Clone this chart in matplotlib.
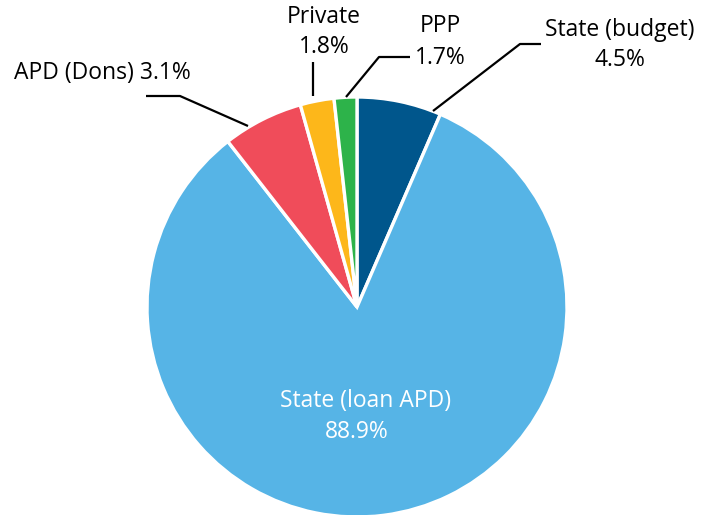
import matplotlib.pyplot as plt

# text shares printed on the chart
names = ['State (budget)', 'State (loan APD)', 'APD (Dons)', 'Private', 'PPP']
label_pct = [4.5, 88.9, 3.1, 1.8, 1.7]
slice_pct = [6.5, 83.0, 6.2, 2.6, 1.75]
colors = ['#00568C', '#56B4E6', '#F04C5A', '#FDB71A', '#2DB34A']

W, H = 703, 515
plt.rcParams['font.family'] = ['Open Sans', 'DejaVu Sans']

fig = plt.figure(figsize=(W / 100, H / 100), dpi=100)
ax = fig.add_axes([0, 0, 1, 1])
ax.set_xlim(0, W)
ax.set_ylim(0, H)
ax.set_aspect('equal')
ax.axis('off')

ax.pie(slice_pct, colors=colors, startangle=90, counterclock=False,
       center=(357, H - 307), radius=210,
       wedgeprops=dict(edgecolor='white', linewidth=2.4))
ax.set_xlim(0, W)
ax.set_ylim(0, H)

fs = 16.5
def y(p):
    return H - p

# leader lines (pixel positions)
leaders = [
    [(146, 96), (180, 96), (248, 126)],
    [(313, 62), (313, 96)],
    [(410, 57), (379, 57), (346, 97)],
    [(541, 44), (520, 44), (433, 111)],
]
for pts in leaders:
    ax.plot([p[0] for p in pts], [y(p[1]) for p in pts], color='black', lw=1.6,
            solid_capstyle='butt')

ax.text(14, y(73), f'{names[2]} {label_pct[2]}%', fontsize=fs, ha='left', va='center')
ax.text(324, y(17), names[3], fontsize=fs, ha='center', va='center')
ax.text(324, y(47), f'{label_pct[3]}%', fontsize=fs, ha='center', va='center')
ax.text(440, y(26), names[4], fontsize=fs, ha='center', va='center')
ax.text(440, y(58), f'{label_pct[4]}%', fontsize=fs, ha='center', va='center')
ax.text(620, y(30), names[0], fontsize=fs, ha='center', va='center')
ax.text(620, y(60), f'{label_pct[0]}%', fontsize=fs, ha='center', va='center')
ax.text(366, y(401), names[1], fontsize=fs, ha='center', va='center', color='white')
ax.text(357, y(432), f'{label_pct[1]}%', fontsize=fs, ha='center', va='center', color='white')

fig.savefig('out.png', dpi=100)
